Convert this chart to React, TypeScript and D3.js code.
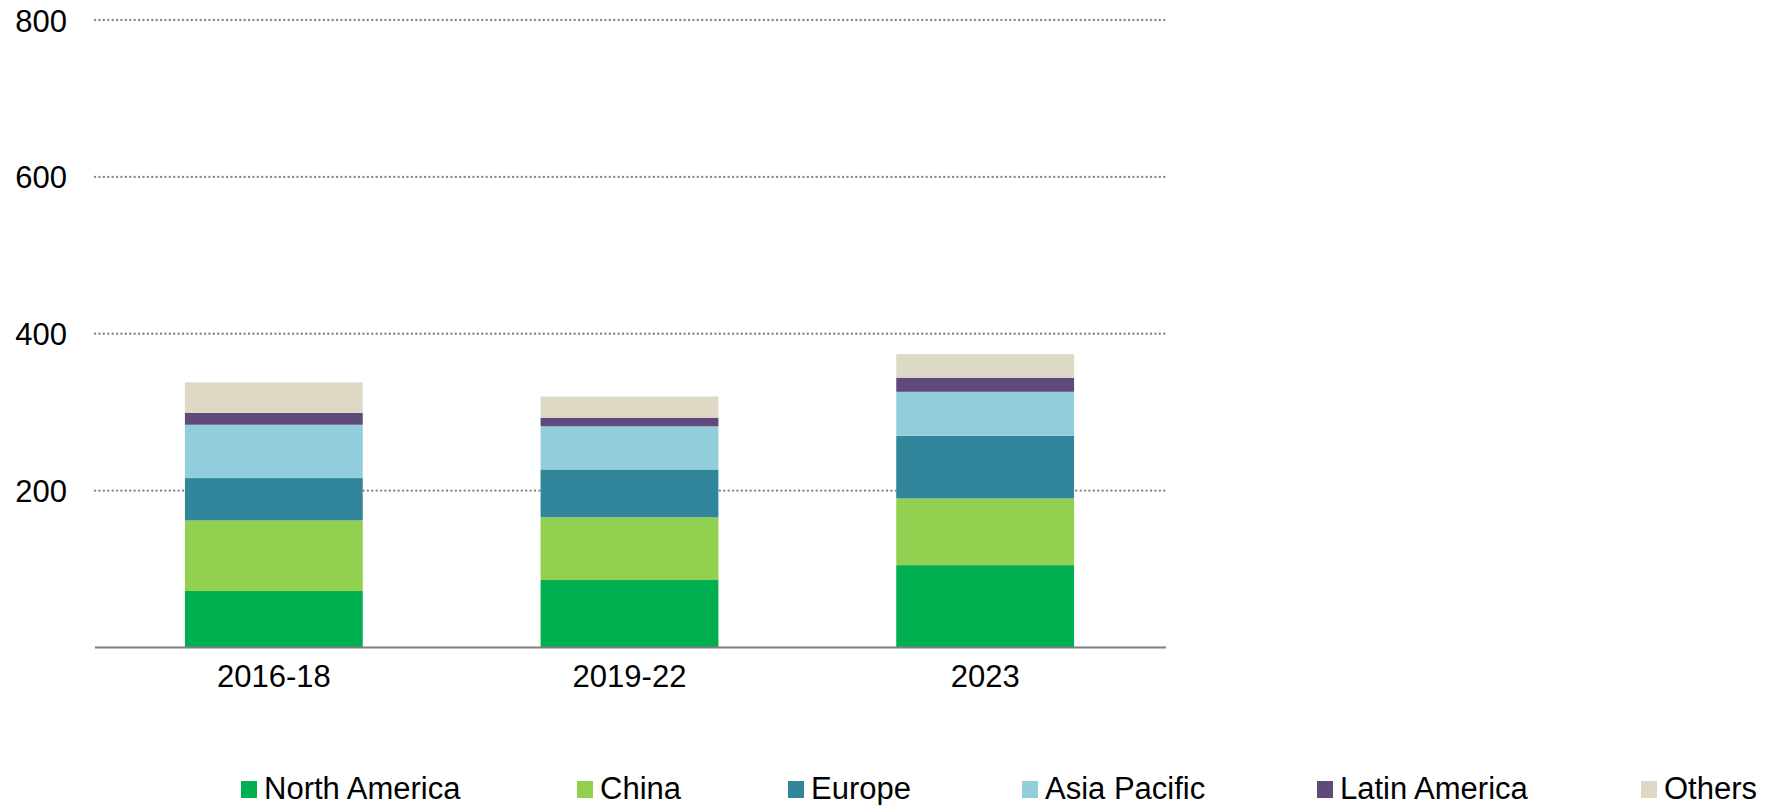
import React from "react";
import * as d3 from "d3";

const categories = ["2016-18", "2019-22", "2023"];
const seriesNames = ["North America", "China", "Europe", "Asia Pacific", "Latin America", "Others"];
const northAmerica = [72, 86, 105];
const china = [90, 80, 85];
const europe = [54, 61, 80];
const asiaPacific = [68, 55, 56];
const latinAmerica = [15, 11, 18];
const others = [39, 27, 30];
const yTicks = [200, 400, 600, 800];

const colors = ["#00AF50", "#92D050", "#31869B", "#92CDDC", "#604A7B", "#DDD9C4"];
const legendX = [241, 577, 788, 1022, 1317, 1641];

const W = 1769;
const H = 805;
const FONT = "'Liberation Sans', Arial, sans-serif";

export default function App() {
  React.useEffect(() => {
    document.body.style.margin = "0";
  }, []);

  const seriesValues = [northAmerica, china, europe, asiaPacific, latinAmerica, others];
  const rows = categories.map((c, i) => {
    const r: any = { cat: c };
    seriesNames.forEach((s, j) => (r[s] = seriesValues[j][i]));
    return r;
  });
  const stacked = d3.stack().keys(seriesNames)(rows);

  const x = d3.scaleBand().domain(categories).range([96, 1163]).paddingInner(0.5).paddingOuter(0.25);
  const y = d3.scaleLinear().domain([0, 800]).range([647.5, 20]);

  return (
    <svg width={W} height={H} style={{ display: "block" }} fontFamily={FONT}>
      <rect width={W} height={H} fill="#fff" />
      {yTicks.map((t) => (
        <g key={t}>
          <line
            x1={95}
            x2={1165}
            y1={y(t)}
            y2={y(t)}
            stroke="#858585"
            strokeWidth={2.3}
            strokeLinecap="round"
            strokeDasharray="0.1 4.3"
          />
          <text x={67} y={y(t) + 11.5} textAnchor="end" fontSize={31} fill="#000">
            {t}
          </text>
        </g>
      ))}
      {stacked.map((s, j) => (
        <g key={s.key} fill={colors[j]}>
          {s.map((d, i) => (
            <rect
              key={i}
              x={x(categories[i])!}
              width={x.bandwidth()}
              y={y(d[1])}
              height={y(d[0]) - y(d[1])}
            />
          ))}
        </g>
      ))}
      <line x1={95} x2={1166} y1={y(0)} y2={y(0)} stroke="#7f7f7f" strokeWidth={2} />
      {categories.map((c) => (
        <text
          key={c}
          x={x(c)! + x.bandwidth() / 2}
          y={687}
          textAnchor="middle"
          fontSize={31}
          fill="#000"
        >
          {c}
        </text>
      ))}
      {seriesNames.map((s, j) => (
        <g key={s}>
          <rect x={legendX[j]} y={781} width={16} height={17} fill={colors[j]} />
          <text x={legendX[j] + 23} y={799} fontSize={31} fill="#000">
            {s}
          </text>
        </g>
      ))}
    </svg>
  );
}
